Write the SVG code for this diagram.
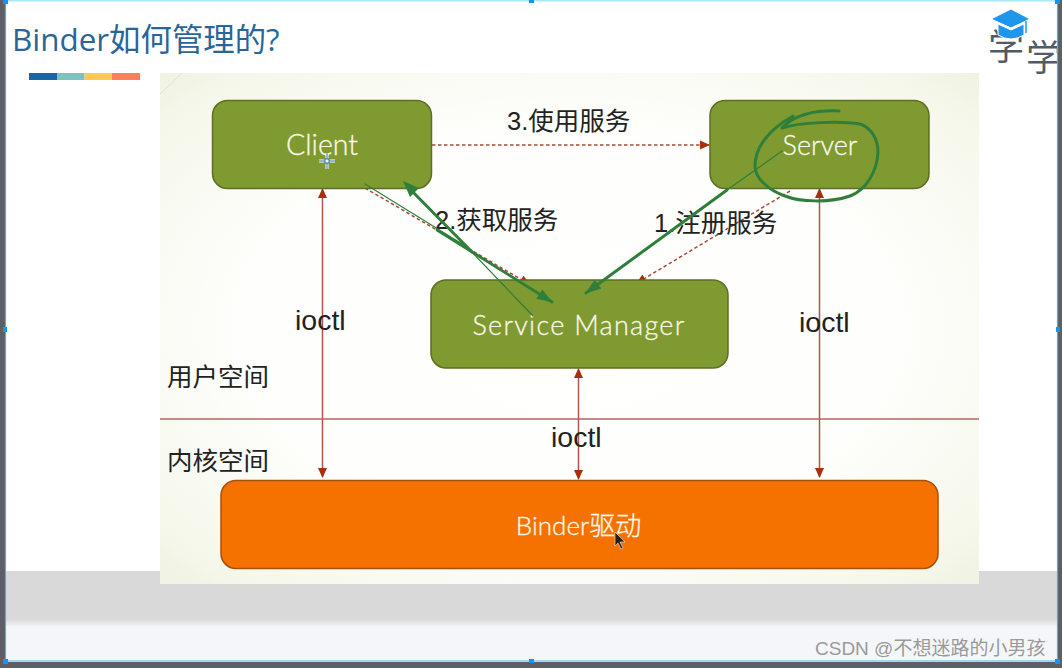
<svg xmlns="http://www.w3.org/2000/svg" width="1062" height="668" viewBox="0 0 1062 668">
<defs>
<radialGradient id="bg" cx="0.5" cy="0.5" r="0.72">
<stop offset="0" stop-color="#ffffff"/><stop offset="0.55" stop-color="#fefefc"/><stop offset="0.85" stop-color="#f6f8ec"/><stop offset="1" stop-color="#eef2e0"/>
</radialGradient>
<linearGradient id="fade" x1="0" y1="0" x2="0" y2="1"><stop offset="0" stop-color="#d9d9d9"/><stop offset="1" stop-color="#f5f6f9"/></linearGradient>
<marker id="ah" markerWidth="10" markerHeight="10" refX="9" refY="5" orient="auto-start-reverse" markerUnits="userSpaceOnUse" viewBox="0 0 10 10"><path d="M0 0.500L10 5L0 9.500Z" fill="#a5300f"/></marker>
<marker id="gh" markerWidth="16" markerHeight="12" refX="15" refY="6" orient="auto" markerUnits="userSpaceOnUse" viewBox="0 0 16 12"><path d="M0 0.500L16 6L0 11.500Z" fill="#2f7f3a"/></marker>
</defs>
<style>
.box{stroke-width:1.5}
.green{fill:#7f9a31;stroke:#5c6f24}
.or{fill:#f57200;stroke:#a84f08}
.wt{font-family:"Lato","Noto Sans CJK SC",sans-serif;font-weight:300;fill:#fbf8ea;stroke:#fbf8ea;stroke-width:.3;text-anchor:middle}
.bk{font-family:"Liberation Sans","Noto Sans CJK SC",sans-serif;fill:#222;font-size:28.500px}
.cn{font-family:"Noto Sans CJK SC",sans-serif;fill:#222;font-size:25.500px}
.l{stroke:#a8584c;stroke-width:1.500;fill:none}
.d{stroke:#a8483c;stroke-width:1.500;fill:none;stroke-dasharray:3.500 2.500}
.gt{stroke:#2f7f3a;fill:none;stroke-linecap:round;stroke-linejoin:round}
</style>
<rect width="1062" height="668" fill="#ffffff"/>
<rect x="5" y="571" width="1052" height="48" fill="#d9d9d9"/>
<rect x="5" y="619" width="1052" height="8" fill="url(#fade)"/>
<rect x="5" y="626" width="1052" height="35" fill="#f5f6f9"/>
<rect x="160" y="73" width="819" height="511" fill="url(#bg)"/>
<path d="M160 94L182 73" stroke="#e2e2d2" stroke-width="1" fill="none"/>
<text x="12" y="51" font-family="'Open Sans','Noto Sans CJK SC',sans-serif" font-size="31.400" fill="#2a6599">Binder如何管理的?</text>
<rect x="29" y="73" width="28" height="7" fill="#1b64a5"/><rect x="57" y="73" width="27.500" height="7" fill="#7fc1c0"/><rect x="84.500" y="73" width="27.500" height="7" fill="#fdc94f"/><rect x="112" y="73" width="28" height="7" fill="#fd7d5d"/>
<g id="logo">
<text x="988" y="60" font-family="'Noto Sans CJK SC',sans-serif" font-size="36" fill="#4f5b66">学</text>
<text x="1026" y="71" font-family="'Noto Sans CJK SC',sans-serif" font-size="36" fill="#4f5b66">学</text>
<path d="M991 19L1011 9L1030 19L1011 28Z" fill="#1e96ee" stroke="#fff" stroke-width="1"/>
<path d="M998 24L1011 30L1024 24V35Q1011 43 998 35Z" fill="#1e96ee" stroke="#fff" stroke-width="1"/>
<path d="M1026 21V33" stroke="#1e96ee" stroke-width="1.500"/>
</g>
<g id="connectors">
<path class="d" d="M432 145H709" marker-end="url(#ah)"/>
<path class="d" d="M365 188L529 284" marker-end="url(#ah)"/>
<path class="d" d="M790 191L637 283" marker-end="url(#ah)"/>
<path class="l" d="M322.500 189V477" marker-start="url(#ah)" marker-end="url(#ah)"/>
<path class="l" d="M819.500 189V477" marker-start="url(#ah)" marker-end="url(#ah)"/>
<path class="l" d="M578.500 369V479" marker-start="url(#ah)" marker-end="url(#ah)"/>
<path d="M160 419H979" stroke="#b0695d" stroke-width="1.300" fill="none"/>
</g>
<g id="client"><rect class="box green" x="212.500" y="100.500" width="219" height="88" rx="15"/><text class="wt" x="322" y="155" font-size="28.500">Client</text></g>
<g id="server"><rect class="box green" x="710" y="100.500" width="219" height="88" rx="15"/><text class="wt" x="820" y="155" font-size="27">Server</text></g>
<g id="service-manager"><rect class="box green" x="431" y="280" width="297" height="88" rx="15"/><text class="wt" x="579" y="335" font-size="27" letter-spacing="1.300">Service Manager</text></g>
<g id="binder"><rect class="box or" x="221" y="480.500" width="717" height="88" rx="15"/><text class="wt" x="578.500" y="535" font-size="26">Binder驱动</text></g>
<g id="labels">
<text class="cn" x="507" y="130"><tspan font-family="Liberation Sans">3.</tspan>使用服务</text>
<text class="cn" x="435" y="229"><tspan font-family="Liberation Sans">2.</tspan>获取服务</text>
<text class="cn" x="654" y="232"><tspan font-family="Liberation Sans">1.</tspan>注册服务</text>
<text class="bk" x="295" y="330">ioctl</text>
<text class="bk" x="799" y="332">ioctl</text>
<text class="bk" x="551" y="447">ioctl</text>
<text class="cn" x="167" y="386">用户空间</text>
<text class="cn" x="167" y="470">内核空间</text>
</g>
<g id="annotations">
<path class="gt" stroke-width="1.200" d="M365 184L467 247L533 316"/>
<path class="gt" stroke-width="3" d="M472 252L410 189"/>
<path d="M403 181L419 188L410 197Z" fill="#2f7f3a"/>
<path class="gt" stroke-width="2.800" d="M437 230L552 302" marker-end="url(#gh)"/>
<path class="gt" stroke-width="1.200" d="M782 151L727 190"/>
<path class="gt" stroke-width="3" d="M727 190L586 293" marker-end="url(#gh)"/>
<path class="gt" stroke-width="3" d="M839 111C815 110 793 115 782 128C800 122 842 121 860 124C872 128 878 140 878 152C877 172 866 190 850 196C830 203 800 202 785 196C768 190 755 178 755 166C755 148 768 130 793 116"/>
</g>
<g id="pointers">
<path d="M327 153V169M319 161H335" stroke="#fff" stroke-width="3" fill="none"/>
<path d="M327 153V169M319 161H335" stroke="#2b6fa5" stroke-width="1" fill="none"/><rect x="325" y="159" width="4" height="4" fill="#fff" stroke="#2b6fa5"/>
<path d="M615 532V546L618 543L621 549L623 548L620 542L625 542Z" fill="#222" stroke="#eee" stroke-width=".6"/>
</g>
<text x="815" y="655" font-family="'Liberation Sans','Noto Sans CJK SC',sans-serif" font-size="19" fill="#9a9a9a">CSDN @不想迷路的小男孩</text>
<g id="frame">
<rect x="0" y="0" width="5" height="668" fill="#5d5f63"/><rect x="1058" y="0" width="4" height="668" fill="#5d5f63"/><rect x="0" y="662" width="1062" height="6" fill="#5d5f63"/>
<path d="M5.500 .5H1057.500V661H5.500Z" fill="none" stroke="#45b4ea" stroke-width="1.200"/>
<path d="M5 .5H1057" stroke="#a9e6fb" stroke-width="2"/>
<g fill="#1296f3"><rect x="3" y="0" width="5" height="4"/><rect x="529" y="0" width="5" height="3"/><rect x="1055" y="0" width="5" height="4"/><rect x="3" y="327" width="4" height="5"/><rect x="1056" y="327" width="4" height="5"/><rect x="3" y="659" width="5" height="5"/><rect x="529" y="659" width="5" height="4"/><rect x="1055" y="659" width="5" height="5"/></g>
</g>
</svg>
